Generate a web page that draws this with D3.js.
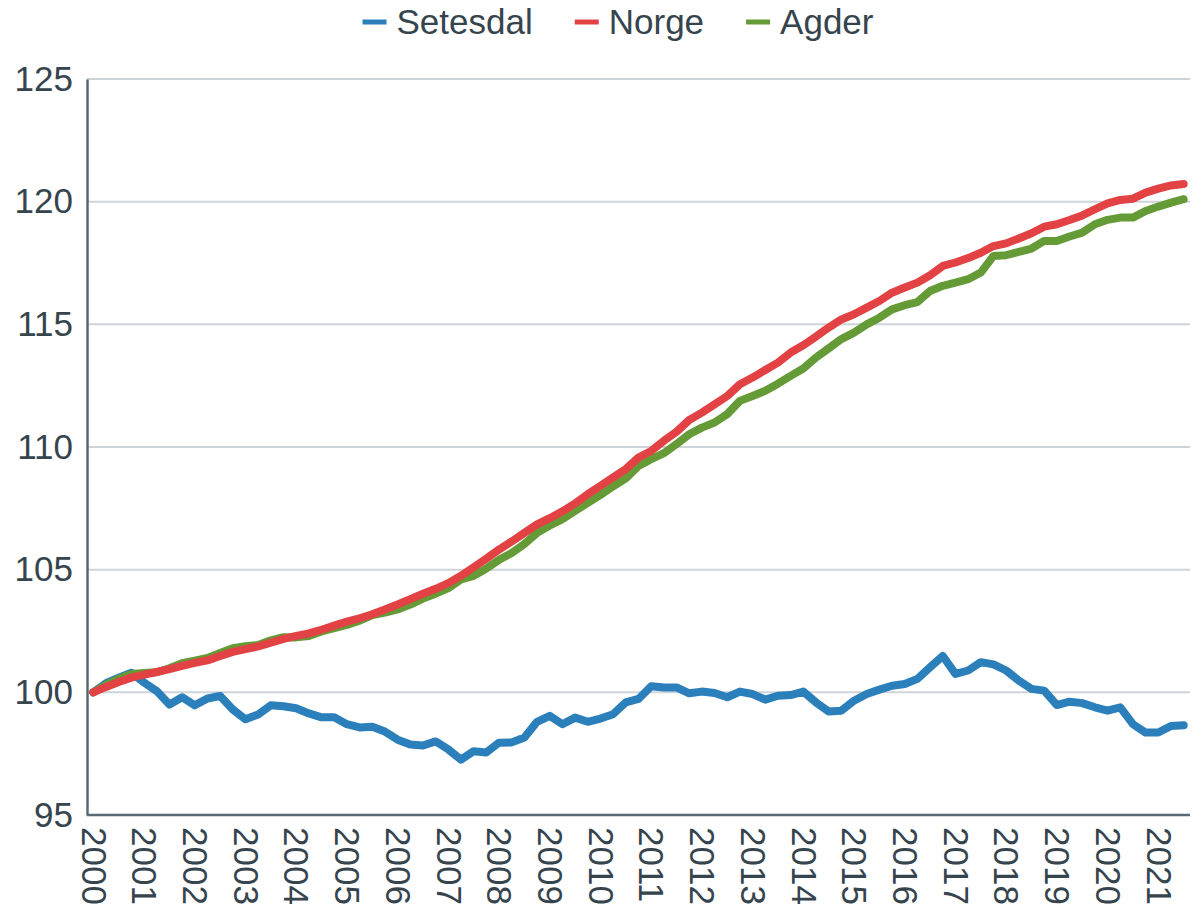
<!DOCTYPE html>
<html>
<head>
<meta charset="utf-8">
<script src="https://cdn.jsdelivr.net/npm/d3@7"></script>
<style>
  body { margin: 0; background: #fff; }
  text { font-family: "Liberation Sans", Arial, sans-serif; fill: #36444e; }
</style>
</head>
<body>
<svg id="chart"></svg>
<script>
// quarterly index, 2000 Q1 = 100
const years = d3.range(2000, 2022);
const quarters = years.flatMap(y => [1, 2, 3, 4].map(q => y + "K" + q)).slice(0, 87);

const setesdal = [
  100.0, 100.37, 100.6, 100.8, 100.4, 100.05, 99.5, 99.8, 99.47, 99.75,
  99.85, 99.3, 98.9, 99.1, 99.47, 99.43, 99.35, 99.14, 98.98, 98.98,
  98.7, 98.57, 98.6, 98.4, 98.07, 97.87, 97.83, 98.0, 97.67, 97.26,
  97.6, 97.55, 97.95, 97.96, 98.16, 98.8, 99.04, 98.7, 98.97, 98.8,
  98.93, 99.11, 99.59, 99.73, 100.25, 100.2, 100.2, 99.96, 100.03, 99.97,
  99.8, 100.03, 99.93, 99.7, 99.86, 99.89, 100.03, 99.59, 99.22, 99.25,
  99.66, 99.93, 100.11, 100.27, 100.34, 100.55, 101.02, 101.48, 100.75, 100.89,
  101.23, 101.14, 100.89, 100.48, 100.14, 100.07, 99.48, 99.62, 99.56, 99.39,
  99.25, 99.39, 98.7, 98.36, 98.36, 98.63, 98.66
];

const norge = [
  100.0, 100.22, 100.42, 100.6, 100.72, 100.83, 100.95, 101.08, 101.2, 101.3,
  101.48, 101.65, 101.76, 101.87, 102.02, 102.18, 102.3, 102.4, 102.55, 102.72,
  102.88, 103.02, 103.18, 103.38, 103.58, 103.8, 104.02, 104.22, 104.45, 104.75,
  105.1, 105.45, 105.82, 106.15, 106.5, 106.85, 107.1, 107.38, 107.7, 108.08,
  108.42, 108.76, 109.1, 109.57, 109.84, 110.25, 110.62, 111.1, 111.4, 111.74,
  112.08, 112.56, 112.83, 113.14, 113.44, 113.85, 114.15, 114.5, 114.87, 115.2,
  115.41, 115.68, 115.95, 116.29, 116.5, 116.7, 117.0, 117.38, 117.52, 117.7,
  117.92, 118.19, 118.3, 118.5, 118.71, 118.98, 119.08, 119.25, 119.44, 119.69,
  119.93, 120.07, 120.12, 120.37, 120.53, 120.66, 120.72
];

const agder = [
  100.0, 100.3, 100.55, 100.75, 100.79, 100.82, 100.98, 101.19, 101.29, 101.4,
  101.6, 101.8, 101.88, 101.93, 102.12, 102.25, 102.24, 102.3, 102.48, 102.62,
  102.75, 102.92, 103.15, 103.25, 103.38, 103.58, 103.82, 104.02, 104.25, 104.6,
  104.75, 105.05, 105.4, 105.68, 106.05, 106.5, 106.8, 107.06, 107.4, 107.72,
  108.05, 108.4, 108.72, 109.23, 109.5, 109.75, 110.12, 110.52, 110.79, 111.0,
  111.34, 111.88, 112.08, 112.29, 112.58, 112.9, 113.2, 113.65, 114.02, 114.4,
  114.66, 115.0, 115.27, 115.61, 115.78, 115.91, 116.36, 116.57, 116.7, 116.84,
  117.11, 117.79, 117.82, 117.95, 118.09, 118.4, 118.4, 118.58, 118.74, 119.08,
  119.26, 119.35, 119.35, 119.62, 119.8, 119.96, 120.1
];

const seriesNames = ["Setesdal", "Norge", "Agder"];
const seriesColors = ["#2b7fbb", "#e24244", "#659b36"];
const yTicks = [95, 100, 105, 110, 115, 120, 125];

const width = 1198, height = 908;
const margin = { top: 79, right: 8, bottom: 93, left: 87 };

const svg = d3.select("#chart")
    .attr("width", width)
    .attr("height", height);

const x = d3.scalePoint()
    .domain(quarters)
    .range([margin.left, width - margin.right])
    .padding(0.5);

const y = d3.scaleLinear()
    .domain([95, 125])
    .range([height - margin.bottom, margin.top]);

// gridlines
svg.append("g")
    .selectAll("line")
    .data(yTicks.slice(1))
    .enter().append("line")
    .attr("x1", margin.left)
    .attr("x2", width - margin.right)
    .attr("y1", d => y(d))
    .attr("y2", d => y(d))
    .attr("stroke", "#cdd4da")
    .attr("stroke-width", 2);

// y axis
const yAxis = svg.append("g")
    .attr("transform", `translate(${margin.left},0)`)
    .call(d3.axisLeft(y).tickValues(yTicks).tickSize(0).tickPadding(14));
yAxis.select(".domain").attr("stroke", "#5a6a74").attr("stroke-width", 2.5);
yAxis.selectAll("text")
    .attr("font-size", 35)
    .attr("fill", "#34424c")
    .style("font-family", "'Liberation Sans', Arial, sans-serif");

// x axis, one label per year at Q1
const xAxis = svg.append("g")
    .attr("transform", `translate(0,${height - margin.bottom})`)
    .call(d3.axisBottom(x)
        .tickValues(quarters.filter(q => q.endsWith("K1")))
        .tickFormat(q => q.slice(0, 4))
        .tickSize(0));
xAxis.select(".domain")
    .attr("d", `M${margin.left},0H${width - margin.right}`)
    .attr("stroke", "#5a6a74")
    .attr("stroke-width", 2.5);
xAxis.selectAll("text")
    .attr("font-size", 35)
    .attr("fill", "#34424c")
    .style("font-family", "'Liberation Sans', Arial, sans-serif")
    .attr("text-anchor", "start")
    .attr("y", 0)
    .attr("dy", "0.35em")
    .attr("transform", "translate(0,12) rotate(90)");

// lines
const line = d3.line()
    .x((d, i) => x(quarters[i]))
    .y(d => y(d));

const allSeries = [setesdal, norge, agder];
svg.append("g")
    .selectAll("path")
    .data([0, 2, 1])
    .enter().append("path")
    .attr("d", i => line(allSeries[i]))
    .attr("fill", "none")
    .attr("stroke", i => seriesColors[i])
    .attr("stroke-width", 8)
    .attr("stroke-linejoin", "round")
    .attr("stroke-linecap", "round");

// legend
const legend = svg.append("g");
const item = legend.selectAll("g")
    .data(seriesNames)
    .enter().append("g");
item.append("line")
    .attr("x1", 0).attr("x2", 24)
    .attr("y1", 22).attr("y2", 22)
    .attr("stroke", (d, i) => seriesColors[i])
    .attr("stroke-width", 5);
item.append("text")
    .attr("x", 34)
    .attr("y", 34)
    .attr("font-size", 35)
    .attr("fill", "#34424c")
    .text(d => d);

let offset = 0;
const widths = [];
item.each(function() {
    widths.push(34 + this.querySelector("text").getComputedTextLength());
});
const gap = 42;
const total = d3.sum(widths) + gap * (widths.length - 1);
offset = 618 - total / 2;
item.attr("transform", (d, i) => {
    const tx = offset;
    offset += widths[i] + gap;
    return `translate(${tx},0)`;
});
</script>
</body>
</html>
